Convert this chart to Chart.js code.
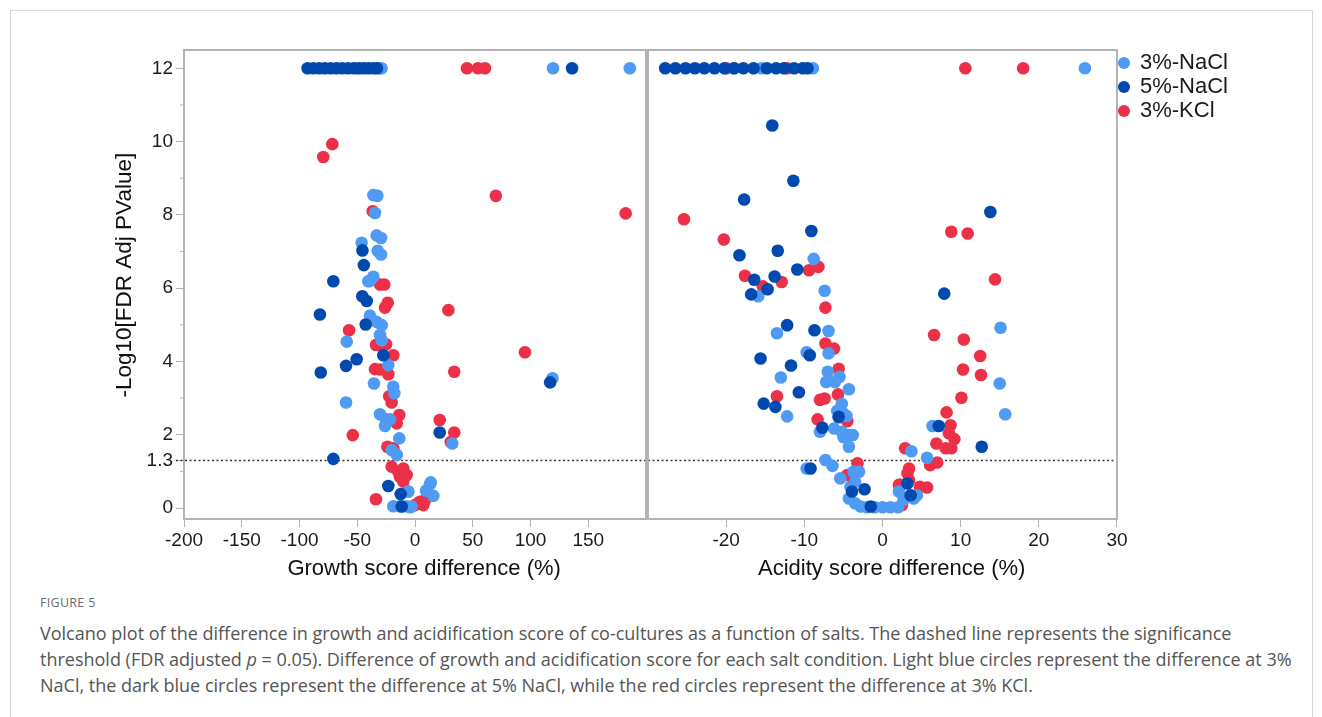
<!DOCTYPE html>
<html>
<head>
<meta charset="utf-8">
<script src="https://cdn.jsdelivr.net/npm/chart.js@4.4.0/dist/chart.umd.min.js"></script>
<style>
  body { margin: 0; background: #fff; width: 1322px; height: 717px; overflow: hidden; position: relative; font-family: 'Liberation Sans', Arial, sans-serif; }
  #frame { position: absolute; left: 10px; top: 10px; width: 1301px; height: 760px; border: 1px solid #d6d6d6; }
  #growthChart { position: absolute; left: 0; top: 0; }
  #acidChart { position: absolute; left: 600px; top: 0; }
  #figLabel { position: absolute; left: 40px; top: 594px; font-family: 'Open Sans', 'Noto Sans', sans-serif; font-size: 12.5px; color: #6b6b6b; letter-spacing: 0.3px; }
  #caption { position: absolute; left: 40px; top: 620px; font-family: 'Open Sans', 'Noto Sans', sans-serif; font-size: 18px; line-height: 26px; color: #555; white-space: nowrap; }
</style>
</head>
<body>
<div id="frame"></div>
<canvas id="growthChart" width="660" height="583"></canvas>
<canvas id="acidChart" width="638" height="583"></canvas>
<div id="figLabel">FIGURE 5</div>
<div id="caption">Volcano plot of the difference in growth and acidification score of co-cultures as a function of salts. The dashed line represents the significance<br>threshold (FDR adjusted <i>p</i> = 0.05). Difference of growth and acidification score for each salt condition. Light blue circles represent the difference at 3%<br>NaCl, the dark blue circles represent the difference at 5% NaCl, while the red circles represent the difference at 3% KCl.</div>

<script>
// series names, legend order
var seriesNames = ['3%-NaCl', '5%-NaCl', '3%-KCl'];
var seriesColors = ['#4f9bf4', '#0049ae', '#ec3047'];
var drawOrder = [1, 0, 2]; // dark blue on top, red at the back

// y axis ticks (-log10 FDR adj p)
var yTicks = [0, 1.3, 2, 4, 6, 8, 10, 12];
var yMinorTicks = [1, 3, 5, 7, 9, 11];
var threshold = 1.3;

var growthTicks = [-200, -150, -100, -50, 0, 50, 100, 150];
var acidTicks = [-20, -10, 0, 10, 20, 30];

// growth score difference (%) vs -log10 p
var growthNaCl3 = [
  [-50, 12], [-31, 12], [-29, 12], [119.5, 12], [186, 12],
  [-36.1, 8.54], [-32.6, 8.52], [-34.6, 8.05], [-33.2, 7.44], [-29.4, 7.37], [-46.2, 7.24],
  [-32.3, 7.02], [-29.4, 6.92], [-36.1, 6.31], [-39, 6.2], [-40.4, 6.19], [-39, 5.25],
  [-33.2, 5.08], [-28.8, 4.99], [-59.1, 4.54], [-30.3, 4.72], [-28.8, 4.58], [-23.1, 3.9],
  [-35.5, 3.4], [-18.8, 3.31], [-17.9, 3.13], [-59.7, 2.88], [-30.3, 2.56], [-25.4, 2.43],
  [-21.6, 2.42], [-26, 2.24], [-13.6, 1.9], [-20.2, 1.58], [-15.8, 1.45], [-5.8, 0.45],
  [-18.8, 0.05], [-13, 0.05], [-7.2, 0.05], [-4.3, 0.02], [-2.9, 0.04], [-6, 0.45],
  [13, 0.65], [13.6, 0.7], [9.5, 0.47], [15.9, 0.33], [119, 3.54], [32.3, 1.76]
];
var growthNaCl5 = [
  [-93, 12], [-88, 12], [-83, 12], [-78, 12], [-73, 12], [-68, 12], [-63, 12], [-58, 12],
  [-53, 12], [-48, 12], [-44, 12], [-40, 12], [-36, 12], [-33, 12], [136, 12],
  [-45.5, 7.03], [-44.3, 6.63], [-70.7, 6.19], [-45.6, 5.78], [-41.8, 5.65], [-82.3, 5.28],
  [-42.7, 5.01], [-27.4, 4.17], [-50.5, 4.06], [-59.7, 3.88], [-81.6, 3.7], [-70.7, 1.34],
  [-23.1, 0.6], [-12.4, 0.38], [-11.5, 0.04], [117, 3.43], [21.4, 2.06]
];
var growthKCl3 = [
  [45, 12], [54.5, 12], [60.6, 12],
  [-71.6, 9.93], [-79.4, 9.58], [-36.6, 8.1], [-30.3, 6.1], [-26.6, 6.1], [-23.6, 5.6],
  [-26, 5.47], [28.9, 5.4], [-57.1, 4.85], [-33.8, 4.45], [-25.1, 4.47], [-31.8, 4.45],
  [-18.8, 4.17], [-34.6, 3.79], [-30.3, 3.78], [-23.1, 3.65], [-22.3, 3.05], [-20.2, 2.88],
  [-13.6, 2.54], [-15.8, 2.31], [-53.9, 1.99], [-23.9, 1.67], [-18.8, 1.63], [-20.2, 1.13],
  [-14.5, 0.99], [-10.1, 1.08], [-13, 0.85], [-7.2, 0.9], [-10.1, 0.72], [-33.8, 0.24],
  [0, 0.08], [5.8, 0.13], [8.7, 0.22], [4.3, 0.17], [7.2, 0.08], [2.9, 0.13],
  [70, 8.52], [182.4, 8.04], [95.2, 4.25], [34, 3.72], [21.4, 2.4], [34, 2.06], [31, 1.8]
];

// acidity score difference (%) vs -log10 p
var acidNaCl3 = [
  [-19, 12], [-15.5, 12], [-8.9, 12], [25.9, 12],
  [-8.8, 6.8], [-15.9, 5.78], [-7.4, 5.93], [-13.5, 4.77], [-6.9, 4.83], [-6.9, 4.22],
  [-9.7, 4.25], [-13, 3.56], [-7, 3.72], [-7.2, 3.44], [-6.1, 3.44], [-5.5, 3.58],
  [-4.3, 3.24], [-5.2, 2.84], [-12.2, 2.5], [-5.8, 2.65], [-5, 2.58], [-4.6, 2.51],
  [-5.6, 2.47], [-8, 2.08], [-6.2, 2.17], [-5.2, 2.08], [-4.3, 1.99], [-3.8, 1.99],
  [-5, 1.94], [-4.3, 1.67], [-7.3, 1.31], [-6.4, 1.15], [-9.7, 1.08], [-3.7, 0.99],
  [-3, 0.99], [-5.4, 0.81], [-3.5, 0.72], [-4.1, 0.58], [-4.3, 0.26], [-3.5, 0.13],
  [-2.8, 0.04], [-2, 0.02], [-1, 0.02], [0, 0.02], [1, 0.02], [2, 0.02],
  [2.1, 0.45], [2.7, 0.22], [4.4, 0.35], [4, 0.26], [3.7, 1.55], [5.7, 1.37], [6.4, 2.24],
  [15.1, 4.92], [15, 3.4], [15.7, 2.56]
];
var acidNaCl5 = [
  [-27.8, 12], [-26.5, 12], [-25.2, 12], [-24, 12], [-22.8, 12], [-21.5, 12], [-20.2, 12],
  [-19, 12], [-17.8, 12], [-16.5, 12], [-14.8, 12], [-13.6, 12], [-12.6, 12], [-11.3, 12],
  [-10.2, 12], [-9.6, 12],
  [-14.1, 10.44], [-11.4, 8.93], [-17.7, 8.42], [-9.1, 7.56], [-18.3, 6.9], [-13.4, 7.02],
  [-10.9, 6.51], [-16.4, 6.23], [-13.8, 6.32], [-14.7, 5.97], [-16.8, 5.83], [-12.2, 4.99],
  [-8.7, 4.85], [-15.6, 4.08], [-9.3, 4.17], [-11.7, 3.89], [-10.7, 3.16], [-15.2, 2.85],
  [-13.7, 2.76], [-5.6, 2.49], [-7.7, 2.19], [-9.2, 1.08], [-3.9, 0.45], [-2.3, 0.51],
  [-1.5, 0.04], [3.2, 0.67], [3.6, 0.35], [7.2, 2.24], [7.9, 5.85], [13.8, 8.08], [12.7, 1.67]
];
var acidKCl3 = [
  [-20, 12], [-12.2, 12], [10.6, 12], [18, 12],
  [-25.4, 7.88], [-20.3, 7.33], [-8.2, 6.58], [-9.4, 6.49], [-17.6, 6.34], [-12.9, 6.17],
  [-15.3, 6.05], [-7.3, 5.47], [-7.3, 4.49], [-6.2, 4.35], [-5.6, 3.8], [-13.5, 3.05],
  [-8, 2.95], [-7.4, 2.99], [-5.7, 3.1], [-8.3, 2.42], [-4.5, 2.37], [-3.2, 1.22],
  [-4.5, 0.9], [2.3, 0.63], [2.5, 0.08], [8.8, 7.54], [10.9, 7.49], [14.4, 6.24],
  [6.6, 4.72], [10.4, 4.6], [12.5, 4.15], [10.3, 3.78], [12.6, 3.63], [10.1, 3.01],
  [8.2, 2.61], [8.7, 2.26], [8.5, 2.04], [9.2, 1.88], [6.9, 1.76], [8.1, 1.63], [8.8, 1.63],
  [2.9, 1.63], [6.1, 1.17], [7, 1.24], [3.4, 1.08], [3.2, 0.95], [2.1, 0.63], [3.4, 0.76],
  [4.8, 0.58], [5.7, 0.56]
];

var fontFamily = "'Liberation Sans', Arial, Helvetica, sans-serif";
var tickFont = { family: fontFamily, size: 19 };
var titleFont = { family: fontFamily, size: 22 };
var nudge = '\u00a0\u00a0\u00a0'; // titles sit a little off-centre in the original

function makeSets(lists) {
  return lists.map(function (pts, i) {
    return {
      label: seriesNames[i],
      data: pts.map(function (p) { return { x: p[0], y: p[1] }; }),
      backgroundColor: seriesColors[i],
      borderColor: seriesColors[i],
      borderWidth: 0,
      pointRadius: 6.3,
      pointHoverRadius: 6.3,
      pointStyle: 'circle',
      order: drawOrder[i]
    };
  });
}

function setTicks(list) {
  return function (scale) {
    scale.ticks = list.map(function (v) { return { value: v }; });
  };
}

function plainLabel(v) { return String(v); }

// frame around plot area, dotted threshold line, minor y ticks
var panelDeco = {
  id: 'panelDeco',
  beforeDatasetsDraw: function (chart, args, opts) {
    var ctx = chart.ctx, a = chart.chartArea;
    var y = chart.scales.y.getPixelForValue(threshold);
    ctx.save();
    ctx.strokeStyle = '#333';
    ctx.lineWidth = 1.5;
    ctx.setLineDash([2, 2.5]);
    ctx.beginPath();
    ctx.moveTo(a.left - (opts.lead || 0), y);
    ctx.lineTo(a.right, y);
    ctx.stroke();
    ctx.restore();
  },
  afterDraw: function (chart, args, opts) {
    var ctx = chart.ctx, a = chart.chartArea;
    ctx.save();
    ctx.strokeStyle = '#b3b3b3';
    ctx.lineWidth = 2;
    ctx.strokeRect(a.left, a.top, a.right - a.left, a.bottom - a.top);
    if (opts.minor) {
      ctx.lineWidth = 1;
      yMinorTicks.forEach(function (v) {
        var y = chart.scales.y.getPixelForValue(v);
        ctx.beginPath();
        ctx.moveTo(a.left - 4, y);
        ctx.lineTo(a.left, y);
        ctx.stroke();
      });
    }
    ctx.restore();
  }
};

function xScale(min, max, ticks, title) {
  return {
    type: 'linear', min: min, max: max,
    afterBuildTicks: setTicks(ticks),
    afterFit: function (scale) { scale.height = 64; },
    grid: { drawOnChartArea: false, drawTicks: true, tickLength: 8, color: '#b3b3b3' },
    border: { display: false },
    ticks: { font: tickFont, color: '#1a1a1a', padding: 2, maxRotation: 0, callback: plainLabel },
    title: { display: true, text: nudge + title, font: titleFont, color: '#111', padding: { top: 0, bottom: 1 } }
  };
}

new Chart(document.getElementById('growthChart'), {
  type: 'scatter',
  data: { datasets: makeSets([growthNaCl3, growthNaCl5, growthKCl3]) },
  options: {
    responsive: false, animation: false, events: [],
    layout: { padding: { left: 107, top: 50, right: 14, bottom: 0 } },
    scales: {
      x: xScale(-200, 200, growthTicks, 'Growth score difference (%)'),
      y: {
        min: -0.3, max: 12.5,
        afterBuildTicks: setTicks(yTicks),
        afterFit: function (scale) { scale.width = 77; },
        grid: { drawOnChartArea: false, drawTicks: true, tickLength: 8, color: '#b3b3b3' },
        border: { display: false },
        ticks: { font: tickFont, color: '#1a1a1a', padding: 3, callback: plainLabel },
        title: { display: true, text: nudge + '-Log10[FDR Adj PValue]', font: { family: fontFamily, size: 22.5 }, color: '#111', padding: { top: 4, bottom: 0 } }
      }
    },
    plugins: {
      legend: { display: false },
      tooltip: { enabled: false },
      panelDeco: { minor: true, lead: 8 }
    }
  },
  plugins: [panelDeco]
});

new Chart(document.getElementById('acidChart'), {
  type: 'scatter',
  data: { datasets: makeSets([acidNaCl3, acidNaCl5, acidKCl3]) },
  options: {
    responsive: false, animation: false, events: [],
    layout: { padding: { left: 48, top: 50, right: 0, bottom: 0 } },
    scales: {
      x: xScale(-30, 30, acidTicks, 'Acidity score difference (%)'),
      y: { display: false, min: -0.3, max: 12.5 }
    },
    plugins: {
      legend: {
        position: 'right', align: 'start',
        labels: {
          usePointStyle: true, boxWidth: 10, boxHeight: 8.5, padding: 2,
          font: { family: fontFamily, size: 22 }, color: '#1a1a1a',
          sort: function (a, b) { return a.datasetIndex - b.datasetIndex; }
        }
      },
      tooltip: { enabled: false },
      panelDeco: { minor: false, lead: 0 }
    }
  },
  plugins: [panelDeco]
});
</script>
</body>
</html>
